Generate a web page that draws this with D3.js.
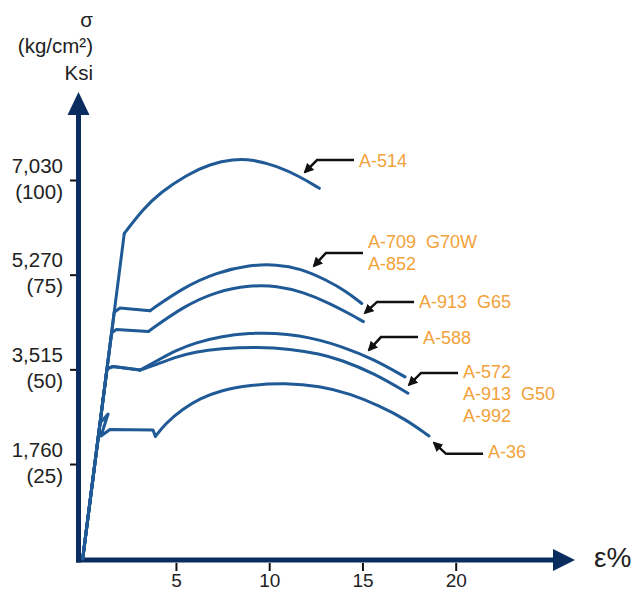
<!DOCTYPE html>
<html>
<head>
<meta charset="utf-8">
<script src="https://cdn.jsdelivr.net/npm/d3@7"></script>
<style>
  html, body { margin: 0; padding: 0; background: #fff; }
  svg { display: block; font-family: "Liberation Sans", Arial, sans-serif; }
  text { white-space: pre; }
</style>
</head>
<body>
<svg id="chart" width="634" height="590"></svg>
<script>
// strain (%) vs stress (ksi)
const xTicks = [5, 10, 15, 20];
const yTicks = [25, 50, 75, 100];
const yTickKg = ['1,760', '3,515', '5,270', '7,030'];

// yield part (straight segments) and strain-hardening part (smooth) per grade
const a514Yield = [[0, 0], [2.23, 85.9]];
const a514Curve = [[2.23, 85.9], [3.25, 92.4], [4.14, 96.6], [5.58, 101.4], [6.83, 104.2], [8.06, 105.5],
  [9.13, 105.4], [10.40, 103.7], [11.65, 100.9], [12.69, 97.8]];

const a709Yield = [[0, 0], [1.69, 65.1], [2.0, 66.2], [3.61, 65.5]];
const a709Curve = [[3.61, 65.5], [5.39, 71.6], [7.18, 75.6], [8.97, 77.6], [10.40, 77.7], [11.65, 76.7],
  [13.08, 73.6], [14.16, 70.5], [14.96, 67.4]];

const a913g65Yield = [[0, 0], [1.55, 59.6], [1.79, 60.5], [3.52, 60.0]];
const a913g65Curve = [[3.52, 60.0], [5.39, 66.6], [7.18, 70.6], [8.97, 72.2], [10.40, 72.1], [11.83, 70.4],
  [13.26, 67.4], [14.33, 64.6], [15.05, 62.6]];

const a588Yield = [[0, 0], [1.30, 50.1], [1.62, 50.75], [3.07, 49.8]];
const a588Curve = [[3.07, 49.8], [4.14, 52.7], [4.95, 54.9], [6.02, 57.0], [7.36, 58.7], [8.97, 59.6],
  [10.31, 59.6], [11.65, 58.9], [12.72, 57.7], [13.79, 56.2], [15.57, 52.8], [17.28, 48.0]];

const a572Yield = [[0, 0], [1.30, 50.1], [1.62, 50.75], [3.07, 49.8]];
const a572Curve = [[3.07, 49.8], [4.14, 51.6], [4.95, 53.2], [6.02, 54.6], [7.36, 55.5], [9.40, 55.9],
  [11.12, 55.4], [12.72, 54.1], [13.79, 52.6], [15.57, 49.1], [17.44, 43.7]];

const a36Yield = [[0, 0], [0.93, 35.8], [1.36, 38.2], [0.98, 32.4], [1.46, 34.1], [3.77, 34.0], [3.90, 32.3]];
const a36Curve = [[3.90, 32.3], [4.41, 35.6], [5.38, 39.6], [6.29, 42.3], [7.36, 44.4], [8.97, 45.9],
  [10.85, 46.4], [12.72, 45.6], [14.33, 43.6], [15.94, 40.3], [17.28, 36.9], [18.57, 32.4]];

const series = [
  { yield: a514Yield, curve: a514Curve },
  { yield: a709Yield, curve: a709Curve },
  { yield: a913g65Yield, curve: a913g65Curve },
  { yield: a588Yield, curve: a588Curve },
  { yield: a572Yield, curve: a572Curve },
  { yield: a36Yield, curve: a36Curve }
];

// callout labels and where their arrows point (strain, ksi)
const calloutLabels = [['A-514'], ['A-709  G70W', 'A-852'], ['A-913  G65'], ['A-588'], ['A-572', 'A-913  G50', 'A-992'], ['A-36']];
const calloutTips = [[11.92, 102.1], [12.40, 77.3], [15.14, 64.9], [15.35, 55.1], [17.50, 45.9], [18.84, 30.6]];

// layout
const NAVY = '#0b2c5f', BLUE = '#1f5a96', ORANGE = '#f2a23a';
const svg = d3.select('#chart');

const x = d3.scaleLinear().domain([0, 20]).range([82.7, 455.7]);
const y = d3.scaleLinear().domain([0, 100]).range([558.7, 180]);

// ticks + labels
const gx = svg.append('g').attr('transform', 'translate(0,563)')
  .call(d3.axisBottom(x).tickValues(xTicks).tickSize(8).tickPadding(3));
gx.select('.domain').remove();
gx.selectAll('.tick line').attr('stroke', '#111').attr('stroke-width', 2);
gx.selectAll('.tick text').attr('font-size', 19).attr('fill', '#222')
  .attr('font-family', '"Liberation Sans", Arial, sans-serif');

const gy = svg.append('g').attr('transform', 'translate(77,0)')
  .call(d3.axisLeft(y).tickValues(yTicks).tickSize(7).tickFormat(''));
gy.select('.domain').remove();
gy.selectAll('.tick line').attr('stroke', '#111').attr('stroke-width', 2);
gy.selectAll('.tick').each(function (d, i) {
  const t = d3.select(this).append('text').attr('text-anchor', 'end').attr('fill', '#222')
    .attr('font-size', 20.5).attr('font-family', '"Liberation Sans", Arial, sans-serif');
  t.append('tspan').attr('x', -14).attr('y', -8).text(yTickKg[i]);
  t.append('tspan').attr('x', -14).attr('y', 18).text(`(${d})`);
});

// axis lines with arrow heads
svg.append('line').attr('x1', 76).attr('x2', 556).attr('y1', 560).attr('y2', 560)
  .attr('stroke', NAVY).attr('stroke-width', 5);
svg.append('line').attr('x1', 78.5).attr('x2', 78.5).attr('y1', 562.5).attr('y2', 112)
  .attr('stroke', NAVY).attr('stroke-width', 5);
svg.append('path').attr('d', 'M553,549 L575,560 L553,571 Z').attr('fill', NAVY);
svg.append('path').attr('d', 'M67.5,115 L78.5,92 L89.5,115 Z').attr('fill', NAVY);

// axis titles
const title = svg.append('text').attr('text-anchor', 'end').attr('fill', '#222').attr('font-size', 20.5);
title.append('tspan').attr('x', 93).attr('y', 27).text('σ');
title.append('tspan').attr('x', 93).attr('y', 53).text('(kg/cm²)');
title.append('tspan').attr('x', 93).attr('y', 80).text('Ksi');
svg.append('text').attr('x', 594).attr('y', 567).attr('font-size', 28).attr('fill', '#222').text('ε%');

// curves
const straight = d3.line().x(d => x(d[0])).y(d => y(d[1]));
const smooth = d3.line().x(d => x(d[0])).y(d => y(d[1])).curve(d3.curveBasis);
const curves = svg.append('g').attr('fill', 'none').attr('stroke', BLUE).attr('stroke-width', 3)
  .attr('stroke-linejoin', 'round').attr('stroke-linecap', 'round');
series.forEach(s => {
  curves.append('path').attr('d', straight(s.yield));
  curves.append('path').attr('d', smooth(s.curve));
});

// callouts
svg.append('defs').append('marker').attr('id', 'ah').attr('viewBox', '0 0 10 10')
  .attr('refX', 8).attr('refY', 5).attr('markerWidth', 4).attr('markerHeight', 4)
  .attr('orient', 'auto').attr('markerUnits', 'strokeWidth')
  .append('path').attr('d', 'M0,0 L10,5 L0,10 Z').attr('fill', '#111');

const calloutLayout = [
  { dy: -12, first: 0 },
  { dy: -13, first: -11 },
  { dy: -11, first: 0 },
  { dy: -13, first: 0 },
  { dy: -12, first: -1 },
  { dy: 11, first: -2 }
];
calloutTips.forEach((tip, i) => {
  const tx = x(tip[0]), ty = y(tip[1]);
  const L = calloutLayout[i];
  const kx = tx + 12, ky = ty + L.dy, ex = kx + 37;
  svg.append('path').attr('d', `M${ex},${ky} L${kx},${ky} L${tx},${ty}`)
    .attr('fill', 'none').attr('stroke', '#111').attr('stroke-width', 2.5)
    .attr('marker-end', 'url(#ah)');
  const t = svg.append('text').attr('fill', ORANGE).attr('font-size', 18);
  calloutLabels[i].forEach((s, j) => {
    t.append('tspan').attr('x', ex + 5).attr('y', ky + L.first + j * 22 + 6.5).text(s);
  });
});
</script>
</body>
</html>
